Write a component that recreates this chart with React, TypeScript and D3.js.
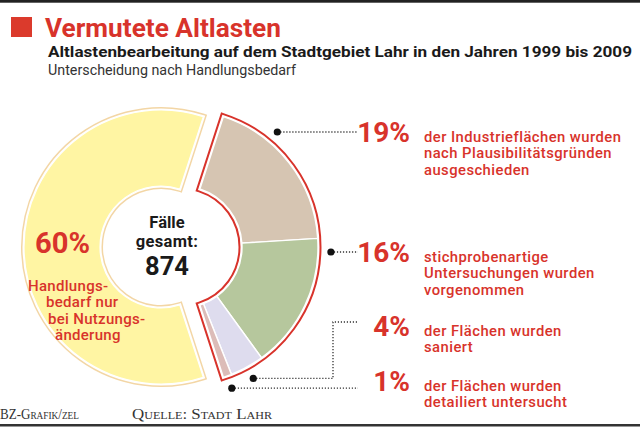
import React from "react";
import * as d3 from "d3";

// ---- data ----
const categories = [
  "Industrieflächen ausgeschieden",
  "stichprobenartig untersucht",
  "saniert",
  "detailiert untersucht",
  "Handlungsbedarf nur bei Nutzungsänderung",
];
const values = [19, 16, 4, 1, 60];
const sliceColors = ["#d6c5b2", "#b6c79d", "#dedcee", "#dcbcb8", "#fff5a3"];
const labelLines = [
  ["der Industrieflächen wurden", "nach Plausibilitätsgründen", "ausgeschieden"],
  ["stichprobenartige", "Untersuchungen wurden", "vorgenommen"],
  ["der Flächen wurden", "saniert"],
  ["der Flächen wurden", "detailiert untersucht"],
];
const mainLabelLines = ["Handlungs-", "bedarf nur", "bei Nutzungs-", "änderung"];
const totalCases = 874;
const titleText = "Vermutete Altlasten";
const subtitleText = "Altlastenbearbeitung auf dem Stadtgebiet Lahr in den Jahren 1999 bis 2009";
const subsubText = "Unterscheidung nach Handlungsbedarf";
const creditText = "BZ-Grafik/zel";
const sourceText = "Quelle: Stadt Lahr";

// ---- layout ----
const W = 640;
const H = 427;
const cx = 161;
const cy = 247;
const r0 = 61;
const r1 = 137;
const explodeX = 20;
const RED = "#d8332b";
const FONT = "Roboto, 'Noto Sans', sans-serif";
const labelBaselines = [142, 262, 336, 391];
const mainLabelX = [28, 46, 48, 55];
const mainLabelBase = 291;
const lineH = 16.3;

export default function App() {
  const total = d3.sum(values);
  const groupFrac = d3.sum(values.slice(0, 4)) / total;
  const start = Math.PI / 2 - groupFrac * Math.PI;
  const pie = d3
    .pie<number>()
    .sort(null)
    .value((d) => d)
    .startAngle(start)
    .endAngle(start + 2 * Math.PI);
  const slices = pie(values);
  const arc = d3.arc<any>().innerRadius(r0).outerRadius(r1);
  const groupArc = arc({ startAngle: slices[0].startAngle, endAngle: slices[3].endAngle });
  const yellowArc = arc({ startAngle: slices[4].startAngle, endAngle: slices[4].endAngle });
  const cx2 = cx + explodeX;
  const Rd = 150;
  const leaderEnd = 358;

  const leaders = slices.slice(0, 4).map((s, i) => {
    const base = labelBaselines[i];
    if (i < 2) {
      const ly = base - 10;
      const dx = Math.sqrt(Rd * Rd - (ly - cy) * (ly - cy));
      const x = cx2 + dx;
      return { dot: [x, ly], path: `M${x},${ly}H${leaderEnd}` };
    }
    const a = (s.startAngle + s.endAngle) / 2;
    const x = cx2 + Rd * Math.sin(a);
    const y = cy - Rd * Math.cos(a);
    if (i === 2) {
      return { dot: [x, y], path: `M${x},${y}H333V${base - 14}H${leaderEnd}` };
    }
    return { dot: [x, y], path: `M${x},${y}H${leaderEnd}` };
  });

  return (
    <svg
      width={W}
      height={H}
      style={{ position: "absolute", left: 0, top: 0, background: "#fff" }}
      fontFamily={FONT}
    >
      <rect x={0} y={0} width={W} height={H} fill="#fff" />
      <rect x={0} y={0} width={W} height={2.7} fill="#222" />
      <rect x={0} y={424} width={W} height={2.5} fill="#333" />

      {/* title */}
      <rect x={11} y={17} width={21} height={20} fill="#db3a2c" />
      <text x={45} y={36.7} fontSize={26} fontWeight={700} fill={RED} textLength={236} lengthAdjust="spacingAndGlyphs">
        {titleText}
      </text>
      <text x={48} y={57} fontSize={15.5} fontWeight={700} fill="#1a1a1a" textLength={584} lengthAdjust="spacingAndGlyphs">
        {subtitleText}
      </text>
      <text x={48} y={75} fontSize={14} fontWeight={400} fill="#333" textLength={248} lengthAdjust="spacingAndGlyphs">
        {subsubText}
      </text>

      {/* yellow slice */}
      <g transform={`translate(${cx},${cy})`}>
        <path d={yellowArc || ""} fill="none" stroke="#f3d6a5" strokeWidth={6} />
        <path d={yellowArc || ""} fill="#fff" stroke="#fff" strokeWidth={3} />
        <path d={yellowArc || ""} fill={sliceColors[4]} stroke="#fff" strokeWidth={1.2} />
      </g>

      {/* exploded group */}
      <g transform={`translate(${cx2},${cy})`}>
        <path d={groupArc || ""} fill="none" stroke={RED} strokeWidth={7} />
        <path d={groupArc || ""} fill="#fff" stroke="#fff" strokeWidth={3} />
        {slices.slice(0, 4).map((s, i) => (
          <path key={categories[i]} d={arc(s) || ""} fill={sliceColors[i]} stroke="#fff" strokeWidth={1.4} />
        ))}
      </g>

      {/* centre text */}
      <g textAnchor="middle" fill="#1a1a1a" fontWeight={700}>
        <text x={167} y={228} fontSize={16.5}>Fälle</text>
        <text x={167} y={246.5} fontSize={16.5} letterSpacing={0.3}>gesamt:</text>
        <text x={167} y={275} fontSize={25.5}>{totalCases}</text>
      </g>

      {/* main label */}
      <text x={35} y={253} fontSize={30} fontWeight={700} fill={RED} textLength={55} lengthAdjust="spacingAndGlyphs">
        {values[4]}%
      </text>
      {mainLabelLines.map((l, i) => (
        <text key={l} x={mainLabelX[i]} y={mainLabelBase + i * lineH} fontSize={15} fontWeight={500} fill={RED} letterSpacing={0.3}>
          {l}
        </text>
      ))}

      {/* leaders */}
      {leaders.map((l, i) => (
        <g key={"ld" + i}>
          <path d={l.path} fill="none" stroke="#333" strokeWidth={1.3} strokeDasharray="1.2 1.8" />
          <circle cx={l.dot[0]} cy={l.dot[1]} r={3.6} fill="#111" />
        </g>
      ))}

      {/* right labels */}
      {labelLines.map((lines, i) => (
        <g key={"lb" + i} fill={RED}>
          <text x={410} y={labelBaselines[i]} fontSize={28} fontWeight={700} textAnchor="end">
            {values[i]}%
          </text>
          {lines.map((t, j) => (
            <text key={t} x={424} y={labelBaselines[i] + j * lineH} fontSize={14.8} fontWeight={500} letterSpacing={0.45}>
              {t}
            </text>
          ))}
        </g>
      ))}

      {/* footer */}
      <g fontFamily="'Liberation Serif', 'DejaVu Serif', serif" fontSize={14} fill="#333" style={{ fontVariant: "small-caps" }}>
        <text x={0} y={419} textLength={79} lengthAdjust="spacingAndGlyphs">{creditText}</text>
        <text x={132} y={419} textLength={140} lengthAdjust="spacingAndGlyphs">{sourceText}</text>
      </g>
    </svg>
  );
}
